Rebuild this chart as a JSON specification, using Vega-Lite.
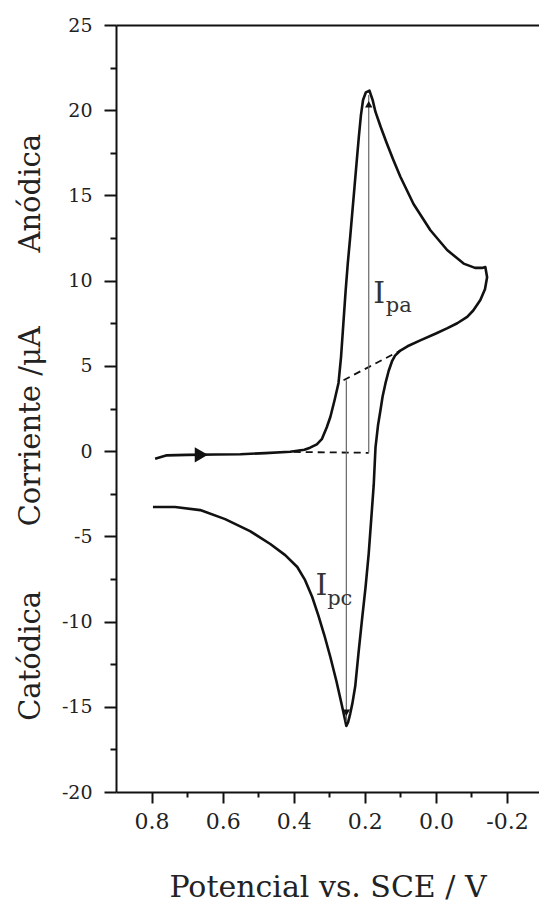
{
  "$schema": "https://vega.github.io/schema/vega-lite/v6.json",
  "width": 423,
  "height": 767,
  "autosize": {"type": "none"},
  "padding": {"left": 116, "top": 25, "right": 0, "bottom": 119},
  "background": "white",
  "config": {
    "view": {"stroke": null},
    "font": "DejaVu Serif",
    "text": {"font": "DejaVu Serif"},
    "axis": {
      "labelFont": "DejaVu Serif",
      "titleFont": "DejaVu Serif",
      "labelColor": "#222",
      "titleColor": "#222",
      "domainColor": "#111",
      "tickColor": "#111",
      "domainWidth": 2,
      "tickWidth": 2,
      "grid": false,
      "titleFontWeight": "normal"
    }
  },
  "datasets": {
    "cv": [
      {"i": 0, "x": 0.79, "y": -0.45},
      {"i": 1, "x": 0.757, "y": -0.25},
      {"i": 2, "x": 0.7, "y": -0.22},
      {"i": 3, "x": 0.62, "y": -0.2},
      {"i": 4, "x": 0.55, "y": -0.18},
      {"i": 5, "x": 0.48, "y": -0.12},
      {"i": 6, "x": 0.41, "y": -0.04},
      {"i": 7, "x": 0.37, "y": 0.08},
      {"i": 8, "x": 0.354, "y": 0.2},
      {"i": 9, "x": 0.335, "y": 0.4},
      {"i": 10, "x": 0.321, "y": 0.7},
      {"i": 11, "x": 0.307, "y": 1.4},
      {"i": 12, "x": 0.297, "y": 2.0},
      {"i": 13, "x": 0.285, "y": 3.0},
      {"i": 14, "x": 0.274, "y": 4.0},
      {"i": 15, "x": 0.267, "y": 5.5},
      {"i": 16, "x": 0.26, "y": 7.6},
      {"i": 17, "x": 0.254, "y": 9.4},
      {"i": 18, "x": 0.248, "y": 11.0},
      {"i": 19, "x": 0.241, "y": 12.6},
      {"i": 20, "x": 0.234, "y": 14.3},
      {"i": 21, "x": 0.229, "y": 15.5},
      {"i": 22, "x": 0.222, "y": 17.2},
      {"i": 23, "x": 0.217, "y": 18.4},
      {"i": 24, "x": 0.211, "y": 19.7},
      {"i": 25, "x": 0.205, "y": 20.6},
      {"i": 26, "x": 0.197, "y": 21.05},
      {"i": 27, "x": 0.187, "y": 21.15},
      {"i": 28, "x": 0.178, "y": 20.6},
      {"i": 29, "x": 0.17, "y": 19.9},
      {"i": 30, "x": 0.155, "y": 19.0},
      {"i": 31, "x": 0.138, "y": 18.05},
      {"i": 32, "x": 0.12, "y": 17.1},
      {"i": 33, "x": 0.1, "y": 16.1},
      {"i": 34, "x": 0.063, "y": 14.5},
      {"i": 35, "x": 0.0155, "y": 12.96},
      {"i": 36, "x": -0.0315, "y": 11.8},
      {"i": 37, "x": -0.078, "y": 11.0},
      {"i": 38, "x": -0.11, "y": 10.75},
      {"i": 39, "x": -0.13, "y": 10.75},
      {"i": 40, "x": -0.139, "y": 10.8},
      {"i": 41, "x": -0.144, "y": 10.2},
      {"i": 42, "x": -0.138, "y": 9.5},
      {"i": 43, "x": -0.125, "y": 8.86},
      {"i": 44, "x": -0.105, "y": 8.25},
      {"i": 45, "x": -0.088, "y": 7.88},
      {"i": 46, "x": -0.06, "y": 7.5},
      {"i": 47, "x": -0.031, "y": 7.2},
      {"i": 48, "x": 0.0, "y": 6.9},
      {"i": 49, "x": 0.044, "y": 6.5},
      {"i": 50, "x": 0.08, "y": 6.15},
      {"i": 51, "x": 0.1, "y": 5.9},
      {"i": 52, "x": 0.115, "y": 5.6},
      {"i": 53, "x": 0.123, "y": 5.3},
      {"i": 54, "x": 0.133, "y": 4.7},
      {"i": 55, "x": 0.142, "y": 3.97},
      {"i": 56, "x": 0.15, "y": 3.2},
      {"i": 57, "x": 0.156, "y": 2.4},
      {"i": 58, "x": 0.163, "y": 1.5},
      {"i": 59, "x": 0.17, "y": 0.2},
      {"i": 60, "x": 0.175, "y": -2.0},
      {"i": 61, "x": 0.182, "y": -4.0},
      {"i": 62, "x": 0.189, "y": -6.0},
      {"i": 63, "x": 0.198, "y": -8.0},
      {"i": 64, "x": 0.208, "y": -9.9},
      {"i": 65, "x": 0.218, "y": -11.9},
      {"i": 66, "x": 0.227, "y": -13.8},
      {"i": 67, "x": 0.235, "y": -14.8},
      {"i": 68, "x": 0.241, "y": -15.4},
      {"i": 69, "x": 0.247, "y": -15.9},
      {"i": 70, "x": 0.252, "y": -16.12},
      {"i": 71, "x": 0.258, "y": -15.54},
      {"i": 72, "x": 0.266, "y": -14.78},
      {"i": 73, "x": 0.28, "y": -13.49},
      {"i": 74, "x": 0.297, "y": -12.08},
      {"i": 75, "x": 0.314, "y": -10.79},
      {"i": 76, "x": 0.331, "y": -9.62},
      {"i": 77, "x": 0.348, "y": -8.56},
      {"i": 78, "x": 0.368, "y": -7.57},
      {"i": 79, "x": 0.39, "y": -6.8},
      {"i": 80, "x": 0.424, "y": -6.1},
      {"i": 81, "x": 0.466, "y": -5.45},
      {"i": 82, "x": 0.523, "y": -4.69},
      {"i": 83, "x": 0.593, "y": -3.99},
      {"i": 84, "x": 0.663, "y": -3.46},
      {"i": 85, "x": 0.734, "y": -3.28},
      {"i": 86, "x": 0.796, "y": -3.28}
    ],
    "dashed": [
      {"x": 0.40, "y": -0.05, "x2": 0.189, "y2": -0.1},
      {"x": 0.26, "y": 4.16, "x2": 0.1, "y2": 5.9}
    ],
    "thin": [
      {"x": 0.189, "y": -0.1, "x2": 0.189, "y2": 20.9},
      {"x": 0.252, "y": 4.16, "x2": 0.252, "y2": -15.9}
    ],
    "heads": [
      {"x": 0.189, "y": 20.35, "s": "triangle-up"},
      {"x": 0.252, "y": -15.35, "s": "triangle-down"}
    ],
    "dir": [
      {"x": 0.66, "y": -0.22}
    ],
    "bigText": [
      {"x": 0.176, "y": 8.68, "t": "I"},
      {"x": 0.339, "y": -8.45, "t": "I"}
    ],
    "subText": [
      {"x": 0.141, "y": 8.15, "t": "pa"},
      {"x": 0.306, "y": -9.03, "t": "pc"}
    ]
  },
  "resolve": {"axis": {"x": "independent", "y": "independent"}},
  "layer": [
    {
      "data": {"name": "cv"},
      "mark": {"type": "line", "color": "#111", "strokeWidth": 2.6, "strokeJoin": "round"},
      "encoding": {
        "order": {"field": "i", "type": "quantitative"},
        "x": {
          "field": "x", "type": "quantitative",
          "scale": {"domain": [-0.29, 0.9], "reverse": true, "nice": false, "zero": false},
          "axis": {
            "orient": "bottom",
            "values": [-0.2, 0, 0.2, 0.4, 0.6, 0.8],
            "format": ".1f",
            "labelExpr": "replace(datum.label, '\u2212', '-')",
            "tickSize": 11,
            "labelFontSize": 22,
            "labelPadding": 8,
            "title": "Potencial vs. SCE / V",
            "titleFontSize": 30,
            "titlePadding": 40
          }
        },
        "y": {
          "field": "y", "type": "quantitative",
          "scale": {"domain": [-20, 25], "nice": false, "zero": false},
          "axis": {
            "orient": "left",
            "values": [-20, -15, -10, -5, 0, 5, 10, 15, 20, 25],
            "labelExpr": "replace(datum.label, '\u2212', '-')",
            "tickSize": 12,
            "labelFontSize": 19,
            "labelPadding": 12,
            "title": "Catódica\u00a0\u00a0\u00a0\u00a0\u00a0\u00a0\u00a0Corriente /μA\u00a0\u00a0\u00a0\u00a0\u00a0\u00a0\u00a0\u00a0Anódica\u00a0\u00a0\u00a0\u00a0\u200b",
            "titleFontSize": 29,
            "titlePadding": 16
          }
        }
      }
    },
    {
      "data": {"name": "dashed"},
      "mark": {"type": "rule", "color": "#111", "strokeWidth": 1.8, "strokeDash": [7, 5]},
      "encoding": {
        "x": {
          "field": "x", "type": "quantitative",
          "scale": {"domain": [-0.29, 0.9], "reverse": true, "nice": false, "zero": false},
          "axis": {
            "orient": "bottom",
            "values": [0.7, 0.5, 0.3, 0.1, -0.1],
            "labels": false, "domain": false, "tickSize": 5, "title": null
          }
        },
        "x2": {"field": "x2"},
        "y": {
          "field": "y", "type": "quantitative",
          "scale": {"domain": [-20, 25], "nice": false, "zero": false},
          "axis": {
            "orient": "left",
            "values": [-17.5, -12.5, -7.5, -2.5, 2.5, 7.5, 12.5, 17.5, 22.5],
            "labels": false, "domain": false, "tickSize": 6, "title": null
          }
        },
        "y2": {"field": "y2"}
      }
    },
    {
      "data": {"name": "thin"},
      "mark": {"type": "rule", "color": "#666", "strokeWidth": 1.2},
      "encoding": {
        "x": {
          "field": "x", "type": "quantitative",
          "scale": {"domain": [-0.29, 0.9], "reverse": true, "nice": false, "zero": false},
          "axis": {
            "orient": "top",
            "labels": false, "ticks": false, "domain": true, "title": null
          }
        },
        "x2": {"field": "x2"},
        "y": {
          "field": "y", "type": "quantitative",
          "scale": {"domain": [-20, 25], "nice": false, "zero": false},
          "axis": null
        },
        "y2": {"field": "y2"}
      }
    },
    {
      "data": {"name": "heads"},
      "mark": {"type": "point", "filled": true, "color": "#111", "opacity": 1, "size": 55},
      "encoding": {
        "x": {"field": "x", "type": "quantitative", "scale": {"domain": [-0.29, 0.9], "reverse": true, "nice": false, "zero": false}, "axis": null},
        "y": {"field": "y", "type": "quantitative", "scale": {"domain": [-20, 25], "nice": false, "zero": false}, "axis": null},
        "shape": {"field": "s", "type": "nominal", "scale": {"domain": ["triangle-up", "triangle-down"], "range": ["triangle-up", "triangle-down"]}, "legend": null}
      }
    },
    {
      "data": {"name": "dir"},
      "mark": {"type": "point", "filled": true, "color": "#111", "opacity": 1, "size": 230, "shape": "triangle-right"},
      "encoding": {
        "x": {"field": "x", "type": "quantitative", "scale": {"domain": [-0.29, 0.9], "reverse": true, "nice": false, "zero": false}, "axis": null},
        "y": {"field": "y", "type": "quantitative", "scale": {"domain": [-20, 25], "nice": false, "zero": false}, "axis": null}
      }
    },
    {
      "data": {"name": "bigText"},
      "mark": {"type": "text", "align": "left", "baseline": "alphabetic", "font": "DejaVu Serif", "fontSize": 30, "color": "#333"},
      "encoding": {
        "x": {"field": "x", "type": "quantitative", "scale": {"domain": [-0.29, 0.9], "reverse": true, "nice": false, "zero": false}, "axis": null},
        "y": {"field": "y", "type": "quantitative", "scale": {"domain": [-20, 25], "nice": false, "zero": false}, "axis": null},
        "text": {"field": "t"}
      }
    },
    {
      "data": {"name": "subText"},
      "mark": {"type": "text", "align": "left", "baseline": "alphabetic", "font": "DejaVu Serif", "fontSize": 21, "color": "#333"},
      "encoding": {
        "x": {"field": "x", "type": "quantitative", "scale": {"domain": [-0.29, 0.9], "reverse": true, "nice": false, "zero": false}, "axis": null},
        "y": {"field": "y", "type": "quantitative", "scale": {"domain": [-20, 25], "nice": false, "zero": false}, "axis": null},
        "text": {"field": "t"}
      }
    }
  ]
}
